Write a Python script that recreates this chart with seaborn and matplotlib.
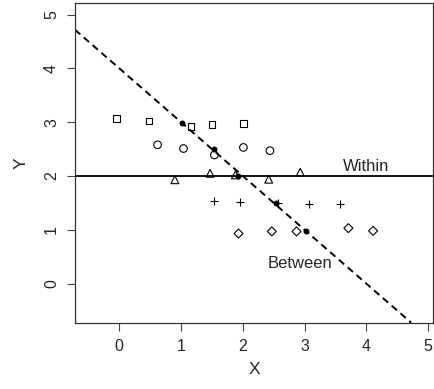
import numpy as np
import pandas as pd
import matplotlib
matplotlib.use("Agg")
import matplotlib.pyplot as plt
import seaborn as sns

# Five groups, five observations each
sq_x = [-0.05, 0.48, 1.16, 1.50, 2.01]
sq_y = [3.07, 3.02, 2.92, 2.95, 2.97]
ci_x = [0.62, 1.04, 1.54, 2.01, 2.44]
ci_y = [2.58, 2.51, 2.39, 2.53, 2.47]
tr_x = [0.90, 1.47, 1.88, 2.42, 2.93]
tr_y = [1.93, 2.05, 2.02, 1.94, 2.07]
pl_x = [1.54, 1.96, 2.57, 3.07, 3.58]
pl_y = [1.53, 1.52, 1.49, 1.48, 1.48]
di_x = [1.93, 2.47, 2.87, 3.71, 4.11]
di_y = [0.93, 0.97, 0.97, 1.03, 0.98]

groups = ["sq", "ci", "tr", "pl", "di"]

# Regression lines
within_intercept, within_slope = 2.0, 0.0
between_intercept, between_slope = 4.0, -1.0

x_ticks = [0, 1, 2, 3, 4, 5]
y_ticks = [0, 1, 2, 3, 4, 5]

frames = []
for g, xs, ys in zip(groups,
                     [sq_x, ci_x, tr_x, pl_x, di_x],
                     [sq_y, ci_y, tr_y, pl_y, di_y]):
    frames.append(pd.DataFrame({"group": g, "x": xs, "y": ys}))
df = pd.concat(frames, ignore_index=True)
means = df.groupby("group", sort=False)[["x", "y"]].mean().reset_index()

sns.set_style("white")
plt.rcParams["font.family"] = ["Liberation Sans", "DejaVu Sans"]

fig = plt.figure(figsize=(4.35, 3.89), dpi=100)
ax = fig.add_axes([75 / 435, 66.3 / 389, 358 / 435, 320 / 389])

marker_spec = {
    "sq": ("s", 24),
    "ci": ("o", 30),
    "tr": ("^", 32),
    "pl": ("+", 38),
    "di": ("D", 21),
}
for g in groups:
    m, s = marker_spec[g]
    sub = df[df["group"] == g]
    if m == "+":
        sns.scatterplot(data=sub, x="x", y="y", marker=m, s=s, color="black",
                        linewidth=0.8, ax=ax, legend=False, zorder=3)
    else:
        sns.scatterplot(data=sub, x="x", y="y", marker=m, s=s,
                        facecolor="none", edgecolor="black", linewidth=0.8,
                        ax=ax, legend=False, zorder=3)

sns.scatterplot(data=means, x="x", y="y", marker="o", s=14, color="black",
                edgecolor="black", linewidth=0.5, ax=ax, legend=False, zorder=4)

ax.axline((0, within_intercept), slope=within_slope, color="black", lw=1.3)
ax.axline((0, between_intercept), slope=between_slope, color="black", lw=1.4,
          linestyle=(0, (3.6, 2.4)))

ax.text(4.0, 2.10, "Within", ha="center", va="baseline", fontsize=12)
ax.text(2.93, 0.285, "Between", ha="center", va="baseline", fontsize=12)

ax.set_xlim(-0.717, 5.08)
ax.set_ylim(-0.727, 5.22)
ax.set_xticks(x_ticks)
ax.set_yticks(y_ticks)
ax.set_xticklabels([str(t) for t in x_ticks], fontsize=11.5)
ax.set_yticklabels([str(t) for t in y_ticks], fontsize=11.5, rotation=90,
                   va="center")
ax.tick_params(axis="both", which="both", direction="out", length=5.5,
               width=0.8, color="#444444", pad=6, bottom=True, left=True)
ax.set_xlabel("X", fontsize=12.5, labelpad=6)
ax.set_ylabel("Y", fontsize=12.5, labelpad=11)
for sp in ax.spines.values():
    sp.set_color("#333333")
    sp.set_linewidth(0.9)

fig.savefig("out.png", dpi=100)
